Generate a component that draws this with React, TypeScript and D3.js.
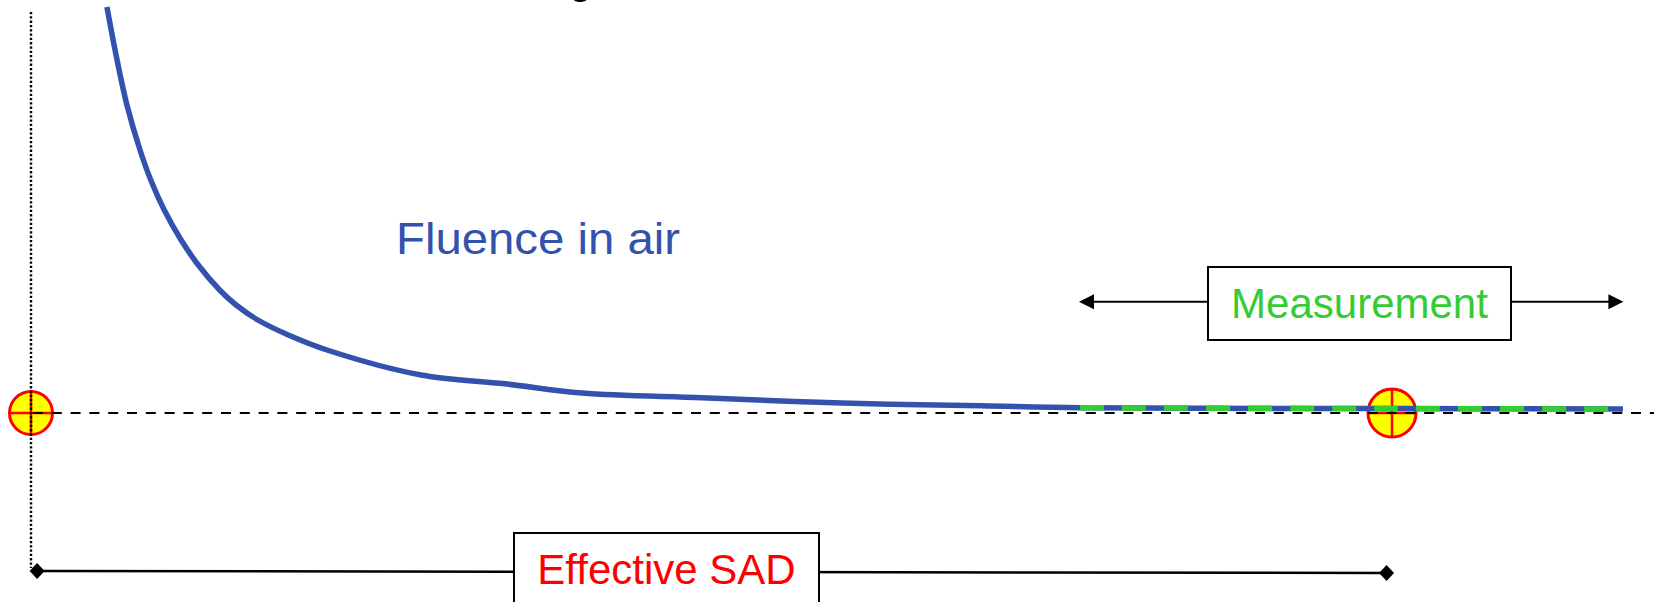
import React from "react";
import * as d3 from "d3";

// Distance from source (source at 0, isocenter at 100) and relative fluence in air
const distance = [5.58, 6.25, 7.05, 8.01, 8.8, 9.79, 11.03, 12.29, 13.86, 15.07, 16.67, 18.91, 21.75, 28.66, 34.83, 40.49, 49.3, 59.59, 69.88, 77.08, 100, 116.97];
const fluence = [10.15, 8.95, 7.7, 6.575, 5.825, 5.075, 4.325, 3.7, 3.075, 2.7, 2.325, 1.95, 1.575, 0.95, 0.73, 0.5, 0.38, 0.25, 0.18, 0.13, 0.11, 0.1];

// Key positions
const markerPositions = [0, 100]; // source & effective point (isocenter)
const measurementRange = [77, 117];
const measurementLevel = 2.78;
const sadRange = [0.45, 99.6];
const sadLevels = [-3.95, -4.0];

const labels = {
  fluence: "Fluence in air",
  measurement: "Measurement",
  sad: "Effective SAD",
};

const W = 1654;
const H = 602;
const BLUE = "#3252AE";
const GREEN = "#33CC33";
const RED = "#FF0000";
const FONT = "'Liberation Sans', Arial, Helvetica, sans-serif";

export default function App() {
  const x = d3.scaleLinear().domain([0, 100]).range([31, 1392]);
  const y = d3.scaleLinear().domain([0, 10]).range([413, 13]);

  const pts = distance.map((d, i) => [d, fluence[i]] as [number, number]);
  const line = d3
    .line<[number, number]>()
    .x((d) => x(d[0]))
    .y((d) => y(d[1]))
    .curve(d3.curveCatmullRom.alpha(0.5));
  const measPts = pts.filter((p) => p[0] >= measurementRange[0] - 0.1);

  const baseY = y(0);
  const markerR = [21.5, 24];
  const arrowY = y(measurementLevel);
  const mx0 = x(measurementRange[0]);
  const mx1 = x(measurementRange[1]);
  const sx0 = x(sadRange[0]);
  const sx1 = x(sadRange[1]);
  const sy0 = y(sadLevels[0]);
  const sy1 = y(sadLevels[1]);

  const diamond = (cx: number, cy: number) =>
    `M${cx},${cy - 8}L${cx + 7.5},${cy}L${cx},${cy + 8}L${cx - 7.5},${cy}Z`;

  return (
    <svg
      width={W}
      height={H}
      viewBox={`0 0 ${W} ${H}`}
      style={{ position: "absolute", left: 0, top: 0, display: "block", background: "#fff" }}
    >
      <rect x={0} y={0} width={W} height={H} fill="#fff" />
      {/* cropped title fragment */}
      <text x={569} y={-7} fontFamily={FONT} fontSize={42} fill="#000">
        g
      </text>

      {/* markers (circles with crosshair) */}
      {markerPositions.map((m, i) => {
        const cx = x(m);
        const r = markerR[i];
        return (
          <g key={i}>
            <circle cx={cx} cy={baseY} r={r} fill="#FFFF00" stroke={RED} strokeWidth={3} />
            <line x1={cx - r} x2={cx + r} y1={baseY} y2={baseY} stroke={RED} strokeWidth={2.5} />
            <line x1={cx} x2={cx} y1={baseY - r} y2={baseY + r} stroke={RED} strokeWidth={2.5} />
          </g>
        );
      })}

      {/* vertical dotted line at source */}
      <line
        x1={x(0)}
        x2={x(0)}
        y1={12}
        y2={568}
        stroke="#000"
        strokeWidth={2.4}
        strokeDasharray="2.3 2"
      />

      {/* horizontal dashed reference */}
      <line
        x1={x(0) + 2}
        x2={W}
        y1={baseY}
        y2={baseY}
        stroke="#000"
        strokeWidth={2}
        strokeDasharray="10 8.8"
      />

      {/* fluence curve */}
      <path d={line(pts) || ""} fill="none" stroke={BLUE} strokeWidth={5.5} />
      <path
        d={line(measPts) || ""}
        fill="none"
        stroke={GREEN}
        strokeWidth={5.5}
        strokeDasharray="24 18"
      />

      <text
        x={396}
        y={254}
        fontFamily={FONT}
        fontSize={44}
        fill={BLUE}
        textLength={284}
        lengthAdjust="spacingAndGlyphs"
      >
        {labels.fluence}
      </text>

      {/* measurement arrow */}
      <line x1={mx0 + 10} x2={mx1 - 10} y1={arrowY} y2={arrowY} stroke="#000" strokeWidth={2} />
      <path d={`M${mx0},${arrowY}L${mx0 + 15},${arrowY - 7.5}L${mx0 + 15},${arrowY + 7.5}Z`} fill="#000" />
      <path d={`M${mx1},${arrowY}L${mx1 - 15},${arrowY - 7.5}L${mx1 - 15},${arrowY + 7.5}Z`} fill="#000" />
      <rect x={1208} y={267} width={303} height={73} fill="#fff" stroke="#000" strokeWidth={2} />
      <text x={1359.5} y={318} textAnchor="middle" fontFamily={FONT} fontSize={42} fill={GREEN}>
        {labels.measurement}
      </text>

      {/* effective SAD line */}
      <line x1={sx0} x2={sx1} y1={sy0} y2={sy1} stroke="#000" strokeWidth={2.5} />
      <path d={diamond(sx0, sy0)} fill="#000" />
      <path d={diamond(sx1, sy1)} fill="#000" />
      <rect x={514} y={533} width={305} height={90} fill="#fff" stroke="#000" strokeWidth={2} />
      <text x={666.5} y={584} textAnchor="middle" fontFamily={FONT} fontSize={42} fill={RED}>
        {labels.sad}
      </text>
    </svg>
  );
}
